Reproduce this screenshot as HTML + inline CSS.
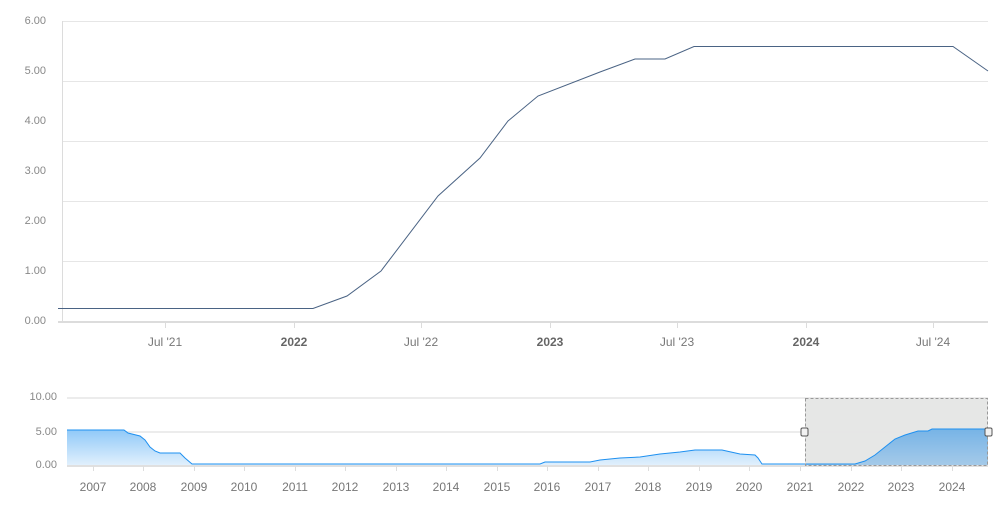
<!DOCTYPE html>
<html><head><meta charset="utf-8"><style>
html,body{margin:0;padding:0;background:#fff;}
svg{display:block;font-family:"Liberation Sans",sans-serif;}
</style></head><body>
<svg width="1006" height="508" viewBox="0 0 1006 508">
<defs>
<linearGradient id="g1" x1="0" y1="0" x2="0" y2="1"><stop offset="0" stop-color="#8ec8f8"/><stop offset="1" stop-color="#e3f1fd"/></linearGradient>
</defs>
<!-- main grid -->
<g stroke="#e6e6e6" stroke-width="1">
<line x1="62" x2="988" y1="21.5" y2="21.5"/>
<line x1="62" x2="988" y1="81.5" y2="81.5"/>
<line x1="62" x2="988" y1="141.5" y2="141.5"/>
<line x1="62" x2="988" y1="201.5" y2="201.5"/>
<line x1="62" x2="988" y1="261.5" y2="261.5"/>
</g>
<line x1="62.5" x2="62.5" y1="21" y2="322" stroke="#dcdcdc"/>
<line x1="58" x2="988" y1="322" y2="322" stroke="#dcdcdc" stroke-width="2"/>
<g stroke="#dcdcdc"><line x1="165.5" x2="165.5" y1="322" y2="328"/><line x1="294.5" x2="294.5" y1="322" y2="328"/><line x1="421.5" x2="421.5" y1="322" y2="328"/><line x1="550.5" x2="550.5" y1="322" y2="328"/><line x1="677.5" x2="677.5" y1="322" y2="328"/><line x1="806.5" x2="806.5" y1="322" y2="328"/><line x1="933.5" x2="933.5" y1="322" y2="328"/></g>
<g fill="#888" font-size="11" text-anchor="end">
<text x="46" y="24">6.00</text><text x="46" y="74">5.00</text><text x="46" y="124">4.00</text><text x="46" y="174">3.00</text><text x="46" y="224">2.00</text><text x="46" y="274">1.00</text><text x="46" y="324">0.00</text>
</g>
<g fill="#777" font-size="12" text-anchor="middle">
<text x="165" y="346">Jul '21</text><text x="294" y="346" font-weight="bold" fill="#666">2022</text><text x="421" y="346">Jul '22</text><text x="550" y="346" font-weight="bold" fill="#666">2023</text><text x="677" y="346">Jul '23</text><text x="806" y="346" font-weight="bold" fill="#666">2024</text><text x="933" y="346">Jul '24</text>
</g>
<polyline fill="none" stroke="#4a6384" stroke-width="1" points="58,308.5 313,308.5 347,296 381,271 438,196 480,158 508,121 538,96 600,72 635,59 665,59 694,46.5 953,46.5 988,71"/>
<!-- navigator -->
<rect x="805" y="398" width="183" height="68" fill="#e6e7e6"/>
<g stroke="#e6e6e6" stroke-width="1.5"><line x1="67" x2="988" y1="398" y2="398"/><line x1="67" x2="988" y1="432" y2="432"/></g>
<polygon fill="url(#g1)" points="67,430 124,430 128,433 140,436 145,440 150,447 155,451 160,453 180,453 185,458 192,464 540,464 545,462 590,462 600,460 620,458 640,457 660,454 680,452 695,450 722,450 740,454 755,455 758,458 762,464 855,464 865,461 875,455 885,447 895,439 905,435 918,431 928,431 932,429 988,429 988,466 67,466"/>
<polygon fill="#5a9bd0" opacity="0.45" points="805,464 855,464 865,461 875,455 885,447 895,439 905,435 918,431 928,431 932,429 988,429 988,466 805,466"/>
<polyline fill="none" stroke="#1e90f0" stroke-width="1" points="67,430 124,430 128,433 140,436 145,440 150,447 155,451 160,453 180,453 185,458 192,464 540,464 545,462 590,462 600,460 620,458 640,457 660,454 680,452 695,450 722,450 740,454 755,455 758,458 762,464 855,464 865,461 875,455 885,447 895,439 905,435 918,431 928,431 932,429 988,429"/>
<line x1="67" x2="988" y1="466" y2="466" stroke="#e0e0e0" stroke-width="2"/>
<rect x="805.5" y="398.5" width="182" height="67" fill="none" stroke="#999" stroke-dasharray="3,2"/>
<rect x="801" y="428" width="7" height="8" rx="1.5" fill="#f2f2f2" stroke="#555"/>
<rect x="985" y="428" width="7" height="8" rx="1.5" fill="#f2f2f2" stroke="#555"/>
<g fill="#888" font-size="11" text-anchor="end">
<text x="57" y="400">10.00</text><text x="57" y="435">5.00</text><text x="57" y="468">0.00</text>
</g>
<g stroke="#ddd"><line x1="93.5" x2="93.5" y1="466" y2="471"/><line x1="143.5" x2="143.5" y1="466" y2="471"/><line x1="194.5" x2="194.5" y1="466" y2="471"/><line x1="244.5" x2="244.5" y1="466" y2="471"/><line x1="295.5" x2="295.5" y1="466" y2="471"/><line x1="345.5" x2="345.5" y1="466" y2="471"/><line x1="396.5" x2="396.5" y1="466" y2="471"/><line x1="446.5" x2="446.5" y1="466" y2="471"/><line x1="497.5" x2="497.5" y1="466" y2="471"/><line x1="547.5" x2="547.5" y1="466" y2="471"/><line x1="598.5" x2="598.5" y1="466" y2="471"/><line x1="648.5" x2="648.5" y1="466" y2="471"/><line x1="699.5" x2="699.5" y1="466" y2="471"/><line x1="749.5" x2="749.5" y1="466" y2="471"/><line x1="800.5" x2="800.5" y1="466" y2="471"/><line x1="851.5" x2="851.5" y1="466" y2="471"/><line x1="901.5" x2="901.5" y1="466" y2="471"/><line x1="952.5" x2="952.5" y1="466" y2="471"/></g>
<g fill="#777" font-size="12" text-anchor="middle">
<text x="93" y="491">2007</text><text x="143" y="491">2008</text><text x="194" y="491">2009</text><text x="244" y="491">2010</text><text x="295" y="491">2011</text><text x="345" y="491">2012</text><text x="396" y="491">2013</text><text x="446" y="491">2014</text><text x="497" y="491">2015</text><text x="547" y="491">2016</text><text x="598" y="491">2017</text><text x="648" y="491">2018</text><text x="699" y="491">2019</text><text x="749" y="491">2020</text><text x="800" y="491">2021</text><text x="851" y="491">2022</text><text x="901" y="491">2023</text><text x="952" y="491">2024</text>
</g>
</svg>
</body></html>
